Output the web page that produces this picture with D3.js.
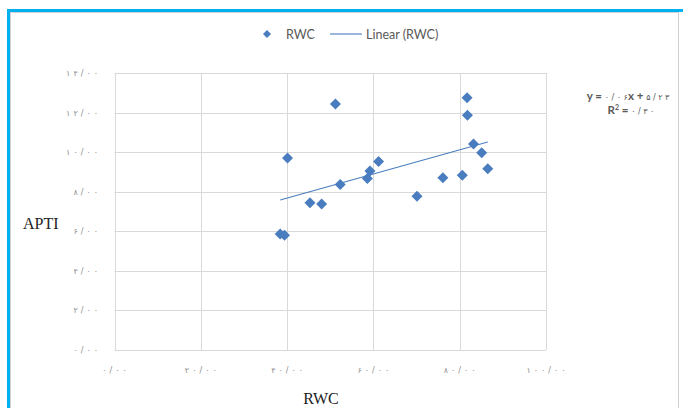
<!doctype html>
<html lang="en">
<head>
<meta charset="utf-8">
<title>APTI vs RWC</title>
<script src="https://d3js.org/d3.v7.min.js"></script>
<style>
  body { margin: 0; background: #fff; }
  .tick-label { font-family: "DejaVu Sans", sans-serif; font-size: 8px; fill: #8c8c8c; }
  .legend { font-family: Lato, "Noto Sans", sans-serif; font-size: 12.5px; fill: #595959; }
  .axis-title { font-family: "Liberation Serif", serif; font-size: 16px; fill: #222; }
  .eq { font-family: Lato, "DejaVu Sans", sans-serif; font-size: 11.5px; font-weight: bold; fill: #595959; }
  .eq .num { font-family: "DejaVu Sans", sans-serif; font-size: 8px; font-weight: normal; }
</style>
</head>
<body>
<div class="chart-container"></div>
<script>
  // RWC (x) and APTI (y)
  const rwc  = [38.4, 39.4, 40.1, 45.3, 48.0, 51.2, 52.3, 58.6, 59.2, 61.2, 70.1, 76.1, 80.6, 81.7, 81.8, 83.2, 85.1, 86.5];
  const apti = [5.86, 5.80, 9.70, 7.44, 7.38, 12.43, 8.37, 8.67, 9.05, 9.53, 7.77, 8.71, 8.83, 12.75, 11.86, 10.41, 9.97, 9.16];

  const xTicks = [0, 20, 40, 60, 80, 100];
  const xTickLabels = ['۰/۰۰', '۲۰/۰۰', '۴۰/۰۰', '۶۰/۰۰', '۸۰/۰۰', '۱۰۰/۰۰'];
  const yTicks = [0, 2, 4, 6, 8, 10, 12, 14];
  const yTickLabels = ['۰/۰۰', '۲/۰۰', '۴/۰۰', '۶/۰۰', '۸/۰۰', '۱۰/۰۰', '۱۲/۰۰', '۱۴/۰۰'];

  // trendline label as printed on the chart
  const slopeLabel = '۰/۰۶';
  const interceptLabel = '۵/۲۳';
  const r2Label = '۰/۳۰';

  const width = 683, height = 408;
  const blue = '#4a7dbf';

  // browsers skip letter-spacing for arabic-block digits, so space them by hand
  function spaced(sel, str, gap) {
    [...str].forEach((c, i) => sel.append('tspan').attr('dx', i ? gap : 0).text(c));
  }

  const svg = d3.select('.chart-container').append('svg')
    .attr('width', width)
    .attr('height', height);

  // frame
  svg.append('rect')
    .attr('x', 10.5).attr('y', 12.5)
    .attr('width', 668).attr('height', 400)
    .attr('fill', 'none').attr('stroke', '#d0d0d0');
  svg.append('path')
    .attr('d', `M8.5,${height} V10.5 H${width}`)
    .attr('fill', 'none').attr('stroke', '#00b0f0').attr('stroke-width', 3);

  const x = d3.scaleLinear().domain([0, 100]).range([114.5, 546]);
  const y = d3.scaleLinear().domain([0, 14]).range([350, 73]);

  // grid
  svg.append('g').selectAll('line')
    .data(yTicks)
    .enter().append('line')
    .attr('x1', x(0)).attr('x2', x(100))
    .attr('y1', d => Math.round(y(d)) + 0.5).attr('y2', d => Math.round(y(d)) + 0.5)
    .attr('stroke', '#d9d9d9');
  svg.append('g').selectAll('line')
    .data(xTicks)
    .enter().append('line')
    .attr('y1', y(0)).attr('y2', y(14))
    .attr('x1', d => Math.round(x(d)) + 0.5).attr('x2', d => Math.round(x(d)) + 0.5)
    .attr('stroke', '#d9d9d9');

  // tick labels
  svg.append('g').selectAll('text')
    .data(yTicks)
    .enter().append('text')
    .attr('class', 'tick-label')
    .attr('x', 98)
    .attr('y', d => y(d) + 3)
    .attr('text-anchor', 'end')
    .each(function (d, i) { spaced(d3.select(this), yTickLabels[i], 3); });
  svg.append('g').selectAll('text')
    .data(xTicks)
    .enter().append('text')
    .attr('class', 'tick-label')
    .attr('x', d => x(d))
    .attr('y', 373)
    .attr('text-anchor', 'middle')
    .each(function (d, i) { spaced(d3.select(this), xTickLabels[i], 3); });

  // trendline (least squares)
  const mx = d3.mean(rwc), my = d3.mean(apti);
  let sxy = 0, sxx = 0;
  rwc.forEach((v, i) => { sxy += (v - mx) * (apti[i] - my); sxx += (v - mx) * (v - mx); });
  const slope = sxy / sxx, intercept = my - slope * mx;
  const [x0, x1] = d3.extent(rwc);
  svg.append('line')
    .attr('x1', x(x0)).attr('y1', y(intercept + slope * x0))
    .attr('x2', x(x1)).attr('y2', y(intercept + slope * x1))
    .attr('stroke', blue).attr('stroke-width', 1.1);

  // points
  const diamond = 'M0,-5.5 L5.5,0 L0,5.5 L-5.5,0 Z';
  svg.append('g').selectAll('path')
    .data(rwc.map((v, i) => ({ x: v, y: apti[i] })))
    .enter().append('path')
    .attr('d', diamond)
    .attr('transform', d => `translate(${x(d.x)},${y(d.y)})`)
    .attr('fill', blue);

  // legend
  svg.append('path').attr('d', 'M0,-4 L4,0 L0,4 L-4,0 Z')
    .attr('transform', 'translate(267,34)').attr('fill', blue);
  svg.append('text').attr('class', 'legend').attr('x', 286).attr('y', 38.5).text('RWC');
  svg.append('line').attr('x1', 330).attr('x2', 362).attr('y1', 34).attr('y2', 34)
    .attr('stroke', blue).attr('stroke-width', 1.1);
  svg.append('text').attr('class', 'legend').attr('x', 366).attr('y', 38.5).text('Linear (RWC)');

  // equation
  const eq = svg.append('text').attr('class', 'eq')
    .attr('x', 628).attr('y', 100).attr('text-anchor', 'middle');
  eq.append('tspan').text('y =  ');
  spaced(eq.append('tspan').attr('class', 'num'), slopeLabel, 2.5);
  eq.append('tspan').text('x +  ');
  spaced(eq.append('tspan').attr('class', 'num'), interceptLabel, 2.5);

  const r2 = svg.append('text').attr('class', 'eq')
    .attr('x', 631).attr('y', 114).attr('text-anchor', 'middle');
  r2.append('tspan').text('R');
  r2.append('tspan').attr('dy', -4).attr('font-size', 7).text('2');
  r2.append('tspan').attr('dy', 4).text(' =  ');
  spaced(r2.append('tspan').attr('class', 'num'), r2Label, 2.5);

  // axis titles
  svg.append('text').attr('class', 'axis-title').attr('x', 23).attr('y', 229).text('APTI');
  svg.append('text').attr('class', 'axis-title').attr('x', 321).attr('y', 404)
    .attr('text-anchor', 'middle').text('RWC');
</script>
</body>
</html>
